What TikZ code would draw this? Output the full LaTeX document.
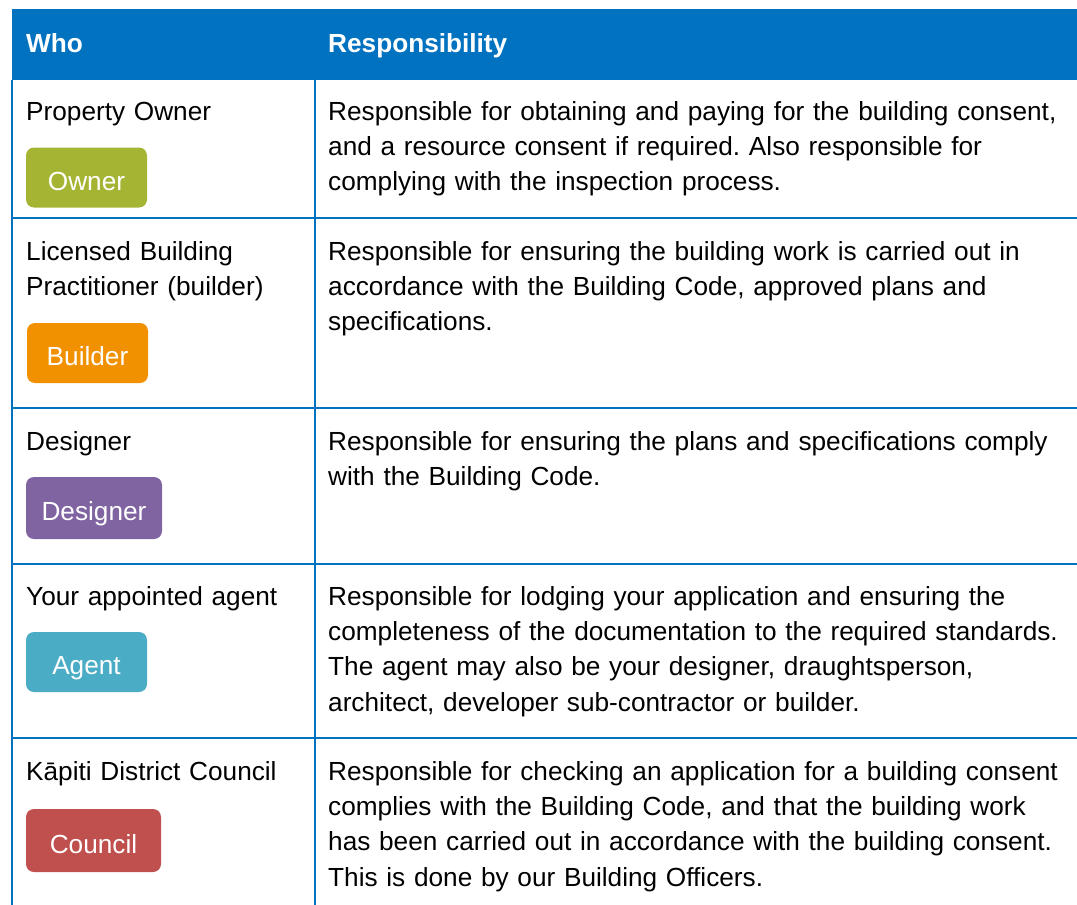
\documentclass[tikz,border=0pt]{standalone}
\usepackage{fontspec}
\setmainfont{Liberation Sans}
\usetikzlibrary{positioning}

\definecolor{headblue}{RGB}{0,114,192}
\definecolor{ownergreen}{RGB}{166,180,52}
\definecolor{builderorange}{RGB}{242,145,0}
\definecolor{designerpurple}{RGB}{128,100,162}
\definecolor{agentblue}{RGB}{75,172,198}
\definecolor{councilred}{RGB}{192,80,77}

\frenchspacing

\begin{document}
\begin{tikzpicture}[
    x=1pt, y=-1pt,
    every node/.style={font=\fontsize{26.2}{35.4}\selectfont},
    rule/.style={headblue, line width=2pt},
    cell/.style={anchor=base west, inner sep=0pt, text width=745pt, align=left},
    who/.style={cell, text width=280pt},
    head/.style={cell, text=white, font=\fontsize{26.2}{35.4}\selectfont\bfseries},
    badge/.style={rounded corners=8pt, text=white, minimum width=121pt, minimum height=60pt,
      text height=25pt, text depth=0pt, inner sep=0pt}
  ]
  \useasboundingbox (0,0) rectangle (1077,905);

  % header band and grid
  \fill[headblue] (12,9) rectangle (1077,80);
  \draw[rule] (12,80) -- (12,905);
  \draw[rule] (315,80) -- (315,905);
  \foreach \y in {217.5,408,564,738}
    \draw[rule] (12,\y) -- (1077,\y);

  \node[head] (who) at (26,52) {Who};
  \node[head] (resp) at (328,52) {Responsibility};

  % owner
  \node[who] (ownerlabel) at (26,120) {Property Owner};
  \node[badge, fill=ownergreen] (owner) at (86.5,177.5) {Owner};
  \node[cell] (ownertext) at (328,120) {Responsible for obtaining and paying for the building consent,\\
    and a resource consent if required. Also responsible for\\
    complying with the inspection process.};

  % builder
  \node[who] (builderlabel) at (26,260) {Licensed Building\\ Practitioner (builder)};
  \node[badge, fill=builderorange] (builder) at (87.5,353) {Builder};
  \node[cell] (buildertext) at (328,260) {Responsible for ensuring the building work is carried out in\\
    accordance with the Building Code, approved plans and\\
    specifications.};

  % designer
  \node[who] (designerlabel) at (26,450) {Designer};
  \node[badge, fill=designerpurple, minimum width=136pt, minimum height=62pt] (designer) at (94,508) {Designer};
  \node[cell] (designertext) at (328,450) {Responsible for ensuring the plans and specifications comply\\
    with the Building Code.};

  % agent
  \node[who] (agentlabel) at (26,605) {Your appointed agent};
  \node[badge, fill=agentblue] (agent) at (86.5,662) {Agent};
  \node[cell] (agenttext) at (328,605) {Responsible for lodging your application and ensuring the\\
    completeness of the documentation to the required standards.\\
    The agent may also be your designer, draughtsperson,\\
    architect, developer sub-contractor or builder.};

  % council
  \node[who] (councillabel) at (26,780) {Kāpiti District Council};
  \node[badge, fill=councilred, minimum width=135pt, minimum height=63pt] (council) at (93.5,840.5) {Council};
  \node[cell] (counciltext) at (328,780) {Responsible for checking an application for a building consent\\
    complies with the Building Code, and that the building work\\
    has been carried out in accordance with the building consent.\\
    This is done by our Building Officers.};
\end{tikzpicture}
\end{document}
